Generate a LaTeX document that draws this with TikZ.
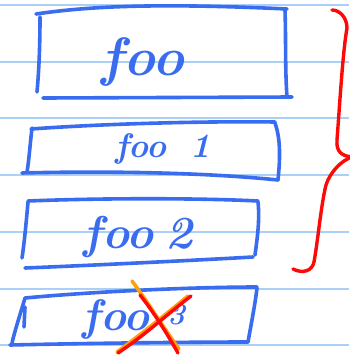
\documentclass[tikz,border=0pt]{standalone}
\definecolor{penblue}{RGB}{58,108,240}
\definecolor{rule}{RGB}{170,208,248}
\definecolor{penred}{RGB}{255,8,8}
\definecolor{penorange}{RGB}{255,160,10}
\begin{document}
\begin{tikzpicture}[x=1pt,y=-1pt,
  ruleline/.style={rule,line width=1.4pt},
  pen/.style={penblue,line width=3.6pt,line cap=round,line join=round},
  redpen/.style={penred,line width=3.4pt,line cap=round,line join=round},
  orangepen/.style={penorange,line width=3.6pt,line cap=round},
  label/.style={penblue,anchor=base,inner sep=0pt}]
\useasboundingbox (0,0) rectangle (349,357);
\fill[white] (0,0) rectangle (349,357);
% ruled lines
\foreach \yy in {5,62,118,175,232,289,345}
  \draw[ruleline] (0,\yy) -- (349,\yy);
% box 1
\draw[pen] (36,14) .. controls (90,6) and (160,3) .. (287,9);
\draw[pen] (285,10) .. controls (286,40) and (285,70) .. (287,97);
\draw[pen] (43,98) -- (292,97);
\draw[pen] (40,17) .. controls (40,45) and (39,70) .. (37,92);
% box 2
\draw[pen] (31,129) .. controls (100,124) and (200,121) .. (275,122);
\draw[pen] (275,123) .. controls (281,140) and (280,160) .. (278,180);
\draw[pen] (22,173) .. controls (100,171) and (200,172) .. (278,180);
\draw[pen] (32,128) .. controls (30,145) and (29,160) .. (27,172);
% box 3
\draw[pen] (28,201) .. controls (100,198) and (200,198) .. (258,201);
\draw[pen] (258,202) .. controls (260,220) and (257,240) .. (255,255);
\draw[pen] (25,268) .. controls (100,265) and (200,260) .. (253,257);
\draw[pen] (28,202) .. controls (26,225) and (24,245) .. (22,258);
% box 4
\draw[pen] (25,298) .. controls (100,291) and (200,287) .. (257,287);
\draw[pen] (257,288) .. controls (255,305) and (251,325) .. (248,342);
\draw[pen] (10,345) .. controls (100,343) and (200,342) .. (248,342);
\draw[pen] (25,298) .. controls (20,315) and (15,330) .. (12,343);
\draw[pen] (25,307) -- (24,327);
% labels
\node[label,font=\bfseries\itshape\fontsize{54}{54}\selectfont] (t1) at (143,75) {foo};
\node[label,font=\bfseries\itshape\fontsize{34}{34}\selectfont] (t2) at (163,157) {foo\hspace{0.7em}1};
\node[label,font=\bfseries\itshape\fontsize{46}{46}\selectfont] (t3) at (138,248) {foo\hspace{0.25em}2};
\node[label,font=\bfseries\itshape\fontsize{44}{44}\selectfont] (t4) at (134,330) {foo\hspace{0.4em}\raisebox{6pt}{\fontsize{30}{30}\selectfont 3}};
% cross
\draw[orangepen] (132,281) .. controls (150,305) and (165,330) .. (179,349);
\draw[orangepen] (188,296) .. controls (165,315) and (140,335) .. (117,352);
\draw[redpen] (140,295) .. controls (152,310) and (165,330) .. (178,353);
\draw[redpen] (191,296) .. controls (170,312) and (145,335) .. (118,353);
% brace
\draw[redpen] (332,10) .. controls (340,10) and (347,18) .. (347,28)
  .. controls (343,50) and (340,100) .. (337,140)
  .. controls (336,152) and (342,156) .. (352,157);
\draw[redpen] (352,157) .. controls (342,160) and (330,172) .. (326,185)
  .. controls (321,205) and (318,240) .. (314,262)
  .. controls (312,271) and (303,274) .. (293,269);
\end{tikzpicture}
\end{document}
